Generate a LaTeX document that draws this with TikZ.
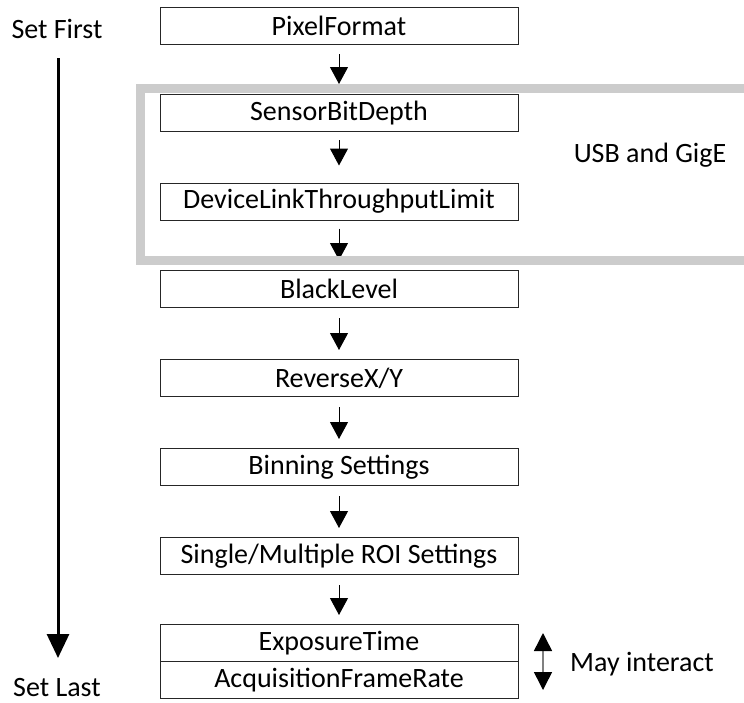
\documentclass[tikz,border=0pt]{standalone}
\usepackage{fontspec}
\setmainfont{Carlito}
\usetikzlibrary{arrows.meta}
\tikzset{
  box/.style={draw=black!85, line width=1pt, minimum width=358pt, minimum height=37pt, inner sep=0pt, font=\fontsize{28}{32}\selectfont},
  lbl/.style={anchor=base, inner sep=0pt, font=\fontsize{28}{32}\selectfont},
  flow/.style={-{Triangle[width=18pt,length=17pt]}, line width=1pt},
}

\begin{document}
\begin{tikzpicture}[x=1pt,y=-1pt]
\clip (0,0) rectangle (744,702);
\node [box] (0) at (339, 26) {PixelFormat};
\node [box] (1) at (339, 113) {SensorBitDepth};
\node [box] (2) at (339, 201.5) {DeviceLinkThroughputLimit};
\node [box] (3) at (339, 289) {BlackLevel};
\node [box] (4) at (339, 378) {ReverseX/Y};
\node [box] (5) at (339, 467) {Binning Settings};
\node [box] (6) at (339, 556) {Single/Multiple ROI Settings};
\node [box] (7) at (339, 643) {ExposureTime};
\node [box] (8) at (339, 680) {AcquisitionFrameRate};
\draw [flow, shorten <=9pt, shorten >=10pt] (0) -- (1);
\draw [flow, shorten <=8pt, shorten >=17pt] (1) -- (2);
\draw [flow, shorten <=8pt, shorten >=10pt] (2) -- (3);
\draw [flow, shorten <=10pt, shorten >=9pt] (3) -- (4);
\draw [flow, shorten <=10pt, shorten >=9pt] (4) -- (5);
\draw [flow, shorten <=10pt, shorten >=9pt] (5) -- (6);
\draw [flow, shorten <=10pt, shorten >=9pt] (6) -- (7);

% USB and GigE group
\draw [black!20, line width=9pt] (140,88) rectangle (800,260);
\node [lbl] (9) at (650, 162) {USB and GigE};

% order
\node [lbl] (10) at (57, 38) {Set First};
\node [lbl] (11) at (57, 696) {Set Last};
\coordinate (12) at (58, 58);
\coordinate (13) at (58, 658);
\draw [line width=3pt, -{Triangle[width=22pt,length=24pt]}] (12) -- (13);

% interaction
\coordinate (14) at (543, 633);
\coordinate (15) at (543, 690);
\draw [gray, line width=1.5pt, {Triangle[width=18pt,length=18pt,black]}-{Triangle[width=18pt,length=18pt,black]}] (14) -- (15);
\node [lbl] (16) at (642, 671) {May interact};
\end{tikzpicture}
\end{document}
